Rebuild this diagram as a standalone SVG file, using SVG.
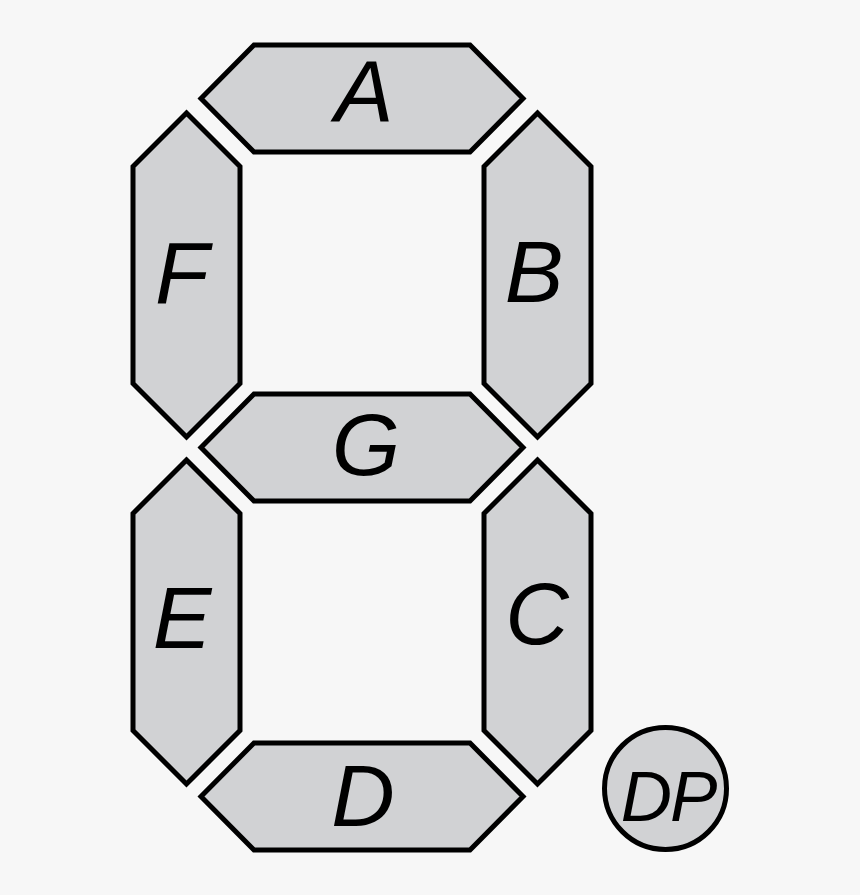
<svg xmlns="http://www.w3.org/2000/svg" width="860" height="895" viewBox="0 0 860 895">
<style>
.seg{fill:#d1d2d4;stroke:#000;stroke-width:5;stroke-linejoin:miter}
.lbl{font-family:"Liberation Sans",Arial,sans-serif;font-style:italic;font-size:88px;fill:#000;text-anchor:middle}
</style>
<rect width="860" height="895" fill="#f7f7f7"/>
<g id="A"><polygon class="seg" points="254,45 470,45 523,98.5 470,152 254,152 201,98.5"/><text class="lbl" x="364" y="122">A</text></g>
<g id="F"><polygon class="seg" points="186.5,113 240,166.5 240,383.5 186.5,437 133,383.5 133,166.5"/><text class="lbl" x="182" y="303">F</text></g>
<g id="B"><polygon class="seg" points="537.5,113 591,166.5 591,383.5 537.5,437 484,383.5 484,166.5"/><text class="lbl" x="534" y="302">B</text></g>
<g id="G"><polygon class="seg" points="254,394 470,394 523,447.5 470,501 254,501 201,447.5"/><text class="lbl" x="366" y="475">G</text></g>
<g id="E"><polygon class="seg" points="186.5,460 240,513.5 240,730.5 186.5,784 133,730.5 133,513.5"/><text class="lbl" x="182" y="648">E</text></g>
<g id="C"><polygon class="seg" points="537.5,460 591,513.5 591,730.5 537.5,784 484,730.5 484,513.5"/><text class="lbl" x="537" y="644">C</text></g>
<g id="D"><polygon class="seg" points="254,743 470,743 523,796.5 470,850 254,850 201,796.5"/><text class="lbl" x="363" y="826">D</text></g>
<g id="DP"><circle class="seg" cx="665.5" cy="788.5" r="61"/><text class="lbl" x="668" y="821" style="font-size:71px;letter-spacing:-2px">DP</text></g>
<g id="connectors"/>
</svg>
